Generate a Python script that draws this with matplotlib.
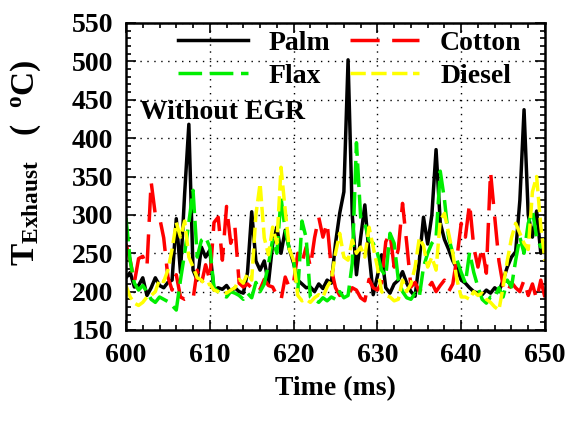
#!/usr/bin/env python3
# Exhaust temperature traces of four fuels, without EGR

import numpy as np
import matplotlib
matplotlib.use("Agg")
import matplotlib.pyplot as plt
from matplotlib.ticker import MultipleLocator

plt.rcParams['font.family'] = ['Liberation Serif', 'DejaVu Serif']
plt.rcParams['font.weight'] = 'bold'
plt.rcParams['mathtext.fontset'] = 'custom'
plt.rcParams['mathtext.rm'] = 'Liberation Serif:bold'
plt.rcParams['mathtext.bf'] = 'Liberation Serif:bold'
plt.rcParams['mathtext.it'] = 'Liberation Serif:bold'
plt.rcParams['mathtext.default'] = 'bf'
plt.rcParams['lines.scale_dashes'] = False

# time axis, 0.5 ms step
time_ms = np.arange(600.0, 650.01, 0.5)

palm = [218, 225, 206, 208, 218, 195, 205, 218, 208, 205,
        212, 215, 295, 225, 328, 418, 228, 215, 258, 245,
        254, 202, 205, 203, 208, 200, 205, 200, 198, 225,
        304, 240, 228, 240, 211, 262, 284, 250, 280, 255,
        237, 215, 210, 205, 206, 200, 210, 204, 215, 211,
        263, 302, 330, 502, 300, 222, 270, 313, 250, 196,
        220, 248, 205, 198, 210, 215, 226, 211, 200, 194,
        240, 297, 262, 300, 385, 290, 268, 255, 240, 230,
        215, 211, 205, 200, 198, 196, 202, 198, 205, 200,
        215, 232, 245, 252, 319, 437, 300, 271, 305, 250,
        258]

cotton = [262, 241, 212, 243, 246, 232, 343, 300, 297, 270,
          219, 202, 222, 193, 190, 192, 190, 228, 210, 235,
          215, 290, 297, 241, 311, 263, 284, 211, 206, 210,
          205, 198, 203, 216, 208, 206, 195, 189, 219, 205,
          212, 250, 238, 258, 232, 270, 297, 271, 290, 230,
          205, 195, 200, 195, 205, 202, 192, 188, 216, 205,
          202, 212, 265, 276, 232, 256, 315, 263, 206, 212,
          200, 208, 204, 212, 200, 208, 215, 200, 210, 245,
          289, 271, 315, 258, 232, 258, 224, 356, 297, 240,
          208, 198, 212, 205, 200, 215, 195, 210, 190, 215,
          192]

flax = [296, 240, 211, 202, 208, 200, 190, 186, 193, 190,
        187, 182, 176, 215, 250, 290, 332, 245, 267, 271,
        258, 205, 200, 195, 193, 200, 198, 195, 190, 198,
        192, 212, 200, 210, 235, 268, 250, 322, 280, 255,
        240, 200, 292, 270, 193, 190, 186, 192, 188, 193,
        190, 200, 192, 195, 237, 394, 297, 289, 267, 263,
        250, 228, 220, 276, 263, 215, 200, 192, 190, 198,
        193, 232, 250, 263, 270, 357, 320, 270, 250, 241,
        225, 211, 251, 225, 206, 190, 185, 193, 192, 205,
        193, 215, 206, 241, 271, 250, 289, 306, 271, 258,
        265]

diesel = [208, 193, 185, 182, 186, 193, 195, 200, 216, 213,
          228, 255, 290, 271, 292, 245, 232, 218, 215, 208,
          210, 202, 200, 200, 198, 202, 205, 216, 211, 224,
          215, 300, 341, 270, 248, 284, 263, 362, 306, 255,
          241, 195, 188, 190, 186, 192, 196, 193, 206, 215,
          250, 276, 245, 241, 267, 250, 258, 245, 284, 258,
          232, 200, 195, 193, 188, 190, 215, 200, 210, 232,
          270, 260, 232, 245, 228, 293, 302, 276, 250, 215,
          193, 193, 190, 200, 195, 198, 190, 186, 180, 176,
          206, 240, 270, 289, 276, 263, 255, 330, 350, 285,
          240]

fig = plt.figure(figsize=(5.68, 4.21), dpi=100)
ax = fig.add_axes([126 / 568, 1 - 330 / 421, 419 / 568, 307 / 421])

lw = 2.5
l_palm, = ax.plot(time_ms, palm, color='black', lw=lw, label='Palm')
l_cotton, = ax.plot(time_ms, cotton, color='red', lw=lw, dashes=(21, 9),
                    label='Cotton')
l_flax, = ax.plot(time_ms, flax, color='#00ee00', lw=lw, dashes=(17, 5.5),
                  label='Flax')
l_diesel, = ax.plot(time_ms, diesel, color='#ffff00', lw=lw, dashes=(11, 4),
                    label='Diesel')

ax.set_xlim(600, 650)
ax.set_ylim(150, 550)
ax.xaxis.set_major_locator(MultipleLocator(10))
ax.xaxis.set_minor_locator(MultipleLocator(2))
ax.yaxis.set_major_locator(MultipleLocator(50))
ax.yaxis.set_minor_locator(MultipleLocator(10))
ax.tick_params(which='both', direction='in', top=True, right=True,
               labelsize=20, width=1.2)
ax.tick_params(which='major', length=7, pad=9)
ax.tick_params(which='minor', length=3.5)
for sp in ax.spines.values():
    sp.set_linewidth(1.8)
ax.grid(True, which='major', linestyle=(0, (1, 4)), color='black', lw=1.0)

ax.set_xlabel('Time (ms)', fontsize=20, fontweight='bold', labelpad=6)
ax.set_ylabel(r'$T_{Exhaust}$   (  $^{o}C$)', fontsize=24,
              fontweight='bold')
ax.yaxis.set_label_coords(-0.198, 0.545)

ax.text(0.033, 0.71, 'Without EGR', transform=ax.transAxes, fontsize=20,
        fontweight='bold', va='center', ha='left')

# two columns: Palm/Flax on the left, Cotton/Diesel on the right
leg = ax.legend([l_palm, l_flax, l_cotton, l_diesel],
                ['Palm', 'Flax', 'Cotton', 'Diesel'],
                ncol=2, loc='upper left', bbox_to_anchor=(0.125, 0.975),
                frameon=False, fontsize=20, handlelength=2.5,
                handletextpad=0.75, columnspacing=0.7, labelspacing=0.25,
                borderpad=0, borderaxespad=0)
leg.set_zorder(5)

fig.savefig('out.png', dpi=100)
